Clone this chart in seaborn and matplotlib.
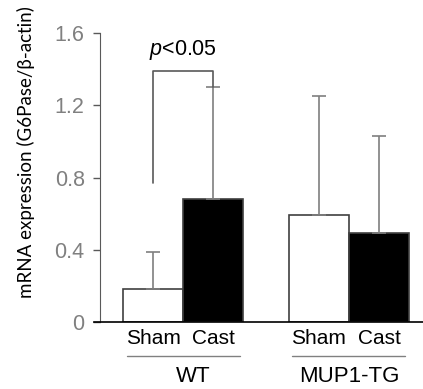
import numpy as np
import pandas as pd
import seaborn as sns
import matplotlib.pyplot as plt
import matplotlib.transforms as mtransforms

# data
groups = ["WT", "WT", "MUP1-TG", "MUP1-TG"]
treatments = ["Sham", "Cast", "Sham", "Cast"]
means = [0.18, 0.68, 0.59, 0.49]
upper_err = [0.21, 0.62, 0.66, 0.54]
yticks = [0, 0.4, 0.8, 1.2, 1.6]
ytick_labels = ["0", "0.4", "0.8", "1.2", "1.6"]
group_order = ["WT", "MUP1-TG"]
sig_text = "$p$<0.05"

sns.set_style("white")
plt.rcParams["font.family"] = ["Liberation Sans", "DejaVu Sans"]
plt.rcParams["text.color"] = "black"
plt.rcParams["mathtext.fontset"] = "custom"
plt.rcParams["mathtext.it"] = "Liberation Sans:italic"
plt.rcParams["mathtext.rm"] = "Liberation Sans"

df = pd.DataFrame({"group": groups, "treatment": treatments, "value": means})

fig = plt.figure(figsize=(4.23, 3.89), dpi=100)
ax = fig.add_axes([0.2222, 0.1722, 0.7778, 0.743])

sns.barplot(data=df, x="group", y="value", hue="treatment", order=group_order,
            hue_order=["Sham", "Cast"], palette={"Sham": "white", "Cast": "black"},
            errorbar=None, width=0.725, edgecolor="#404040", linewidth=1.2,
            legend=False, ax=ax)

# bar centres, left to right: WT Sham, WT Cast, MUP Sham, MUP Cast
bars = sorted(ax.patches, key=lambda p: p.get_x())
xs = [p.get_x() + p.get_width() / 2 for p in bars]

# one-sided (upper) error bars
ax.errorbar(xs, means, yerr=[np.zeros(len(means)), upper_err], fmt="none",
            ecolor="#7f7f7f", elinewidth=1.2, capsize=5, capthick=1.2, zorder=3)

# significance bracket between WT Sham and WT Cast
top = 1.39
ax.plot([xs[0], xs[0], xs[1], xs[1]],
        [means[0] + upper_err[0] + 0.38, top, top, means[1] + upper_err[1]],
        color="#595959", lw=1.2, zorder=4)
ax.text((xs[0] + xs[1]) / 2, top + 0.05, sig_text, ha="center", va="bottom",
        fontsize=15.5, color="black")

ax.set_ylim(0, 1.6)
ax.set_xlim(-0.54, 1.447)
ax.set_yticks(yticks)
ax.set_yticklabels(ytick_labels)
ax.tick_params(axis="y", direction="out", length=5, width=1, color="#595959", pad=6,
               left=True, labelsize=15.5, labelcolor="#808080")
for lab in ax.get_yticklabels():
    lab.set_family(["Lato", "DejaVu Sans"])

ax.set_xticks(xs)
ax.set_xticklabels(treatments)
ax.tick_params(axis="x", length=0, pad=5, labelsize=15, labelcolor="black")

ax.set_xlabel("")
ax.set_ylabel("mRNA expression (G6Pase/\u03b2-actin)", fontsize=13.5, color="black",
              family=["Lato", "DejaVu Sans"])
ax.yaxis.set_label_coords(-0.179, 0.588)

sns.despine(ax=ax, top=True, right=True)
ax.spines["left"].set_color("#595959")
ax.spines["left"].set_position(("axes", 0.018))
ax.spines["bottom"].set_color("black")
ax.spines["bottom"].set_linewidth(1.2)

# group underline and group names below the tick labels
trans = mtransforms.blended_transform_factory(ax.transData, ax.transAxes)
for gi, name in enumerate(group_order):
    x0, x1 = xs[2 * gi], xs[2 * gi + 1]
    ax.plot([x0 - 0.16, x1 + 0.16], [-0.118, -0.118], color="#808080", lw=1,
            transform=trans, clip_on=False)
    ax.text((x0 + x1) / 2 + (0.06 if gi == 0 else 0), -0.152, name, transform=trans,
            ha="center", va="top", fontsize=16, color="black")

fig.savefig("out.png", dpi=100)
